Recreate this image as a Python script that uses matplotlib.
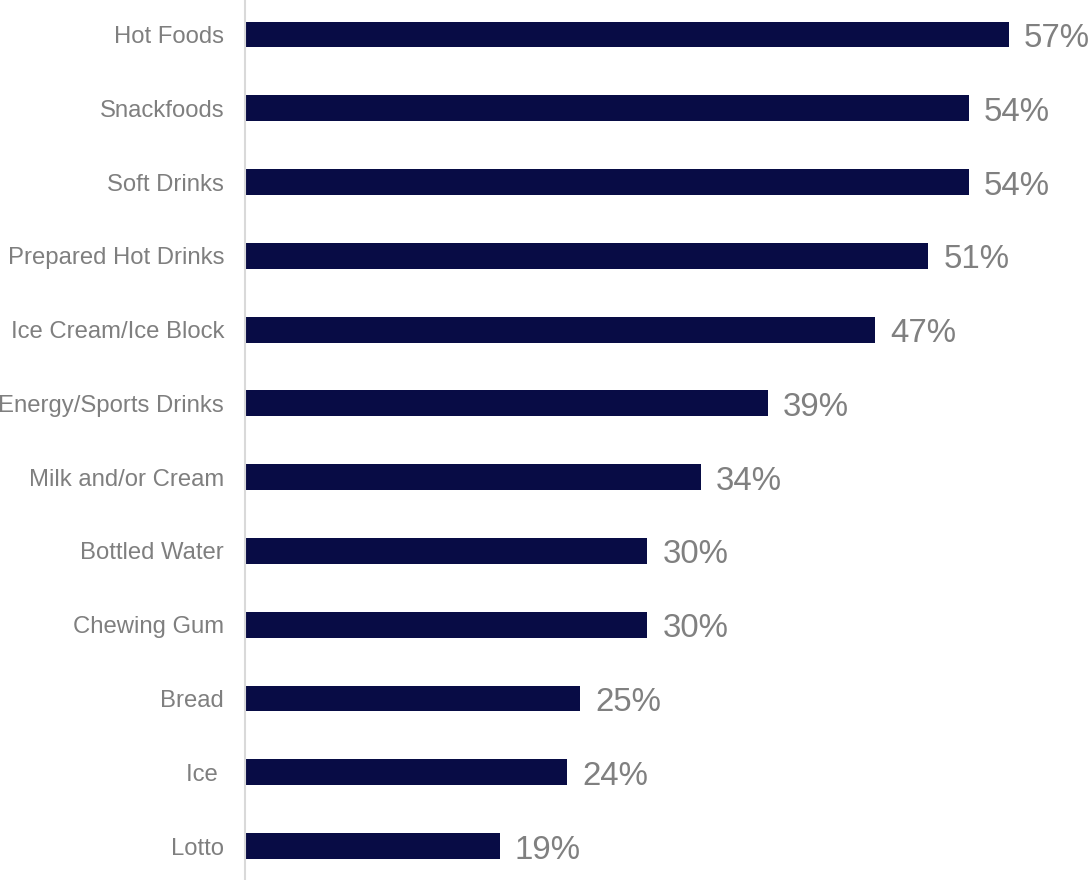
import matplotlib
matplotlib.use("Agg")
import matplotlib.pyplot as plt

categories = ["Hot Foods", "Snackfoods", "Soft Drinks", "Prepared Hot Drinks",
              "Ice Cream/Ice Block", "Energy/Sports Drinks", "Milk and/or Cream",
              "Bottled Water", "Chewing Gum", "Bread", "Ice ", "Lotto"]
values = [57, 54, 54, 51, 47, 39, 34, 30, 30, 25, 24, 19]

plt.rcParams['font.family'] = ['Liberation Sans', 'DejaVu Sans']

fig = plt.figure(figsize=(10.92, 8.8), dpi=100)
ax = fig.add_axes([245 / 1092, 0.0, 804 / 1092, 1.0])

pos = list(range(len(categories)))
ax.barh(pos, values, height=0.352, color="#080c45", edgecolor="none")

for y, v in zip(pos, values):
    ax.annotate(f"{v}%", xy=(v, y), xytext=(11, -9), textcoords="offset points",
                ha="left", va="baseline", fontsize=23.8, color="#808080")

ax.set_xlim(0, 60)
ax.set_ylim(11.46, -0.4675)
ax.set_yticks(pos)
ax.set_yticklabels(categories, fontsize=17.2, color="#7f7f7f")
ax.tick_params(axis="y", length=0, pad=15)
ax.set_xticks([])

for s in ("top", "right", "bottom"):
    ax.spines[s].set_visible(False)
ax.spines["left"].set_color("#d9d9d9")
ax.spines["left"].set_linewidth(1.5)

fig.savefig("out.png", dpi=100)
